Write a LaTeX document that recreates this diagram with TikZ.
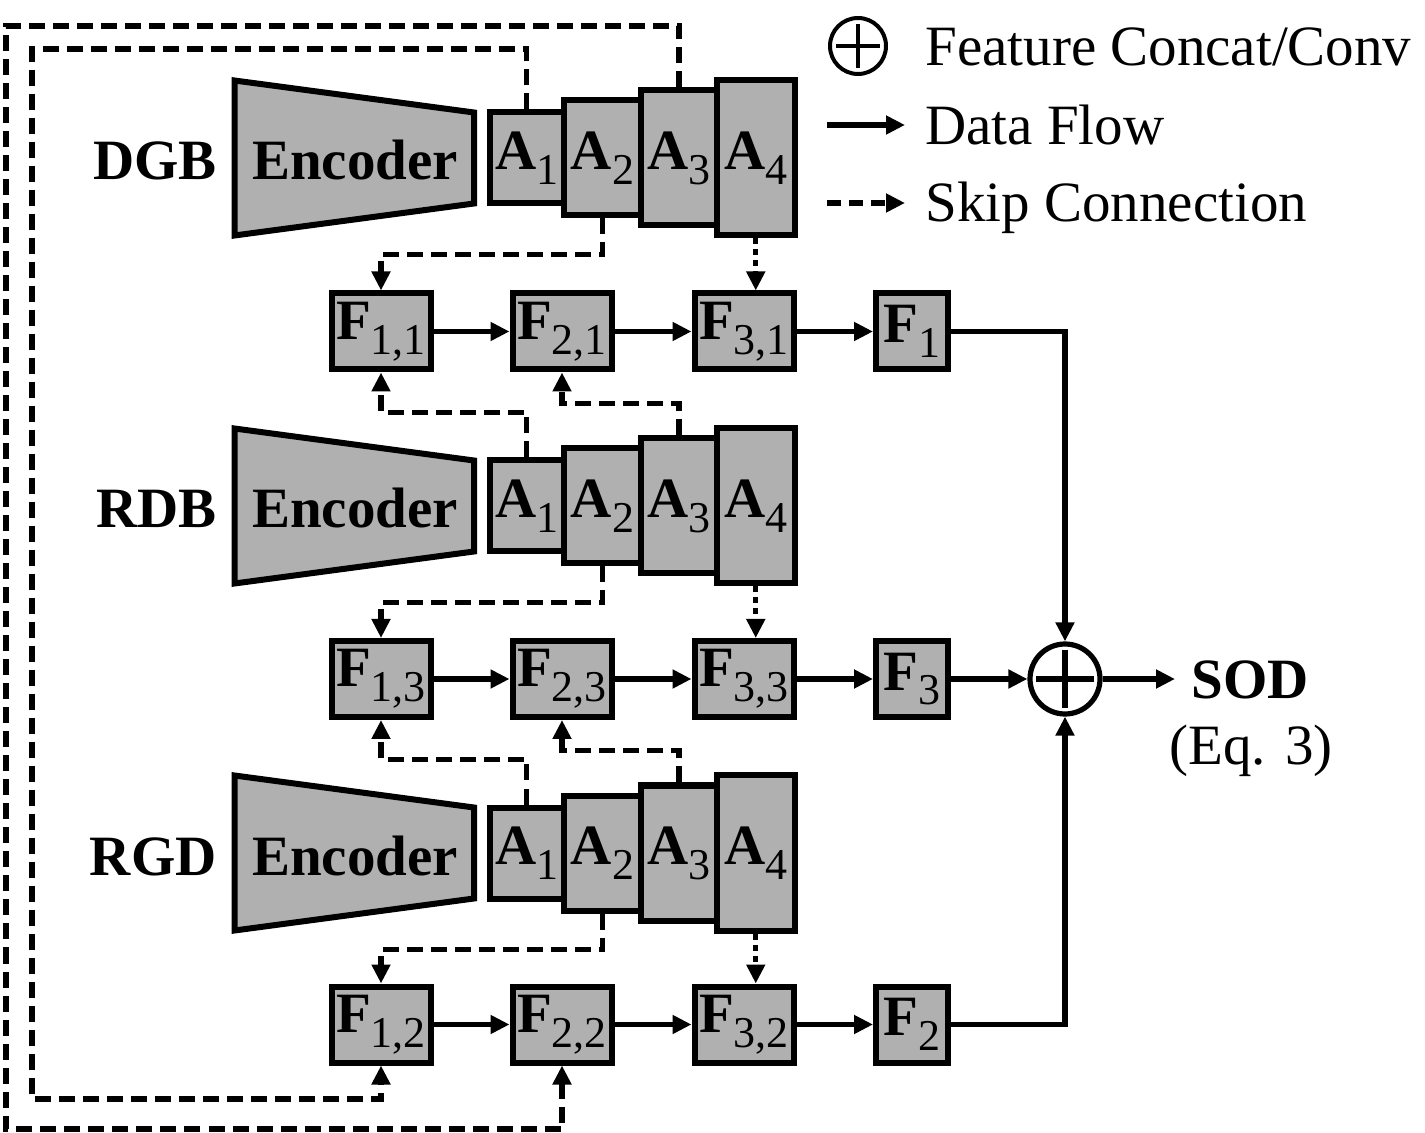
\documentclass[tikz,border=0pt]{standalone}
\usepackage{fontspec}
\setmainfont{Liberation Serif}
\usetikzlibrary{arrows.meta,calc}
\definecolor{boxgray}{RGB}{176,176,176}
\newcommand{\sbs}[1]{\raisebox{-0.26em}{\fontsize{22}{22}\selectfont #1}}
\begin{document}
\begin{tikzpicture}[x=0.5pt,y=-0.5pt,
  every node/.style={font=\fontsize{28.5}{34}\selectfont},
  blk/.style={draw, line width=3pt, fill=boxgray, inner sep=0pt, anchor=center},
  tip/.style={-{Triangle[length=9.5pt,width=9pt]}},
  data/.style={line width=2.6pt, tip},
  skip/.style={line width=2.6pt, dash pattern=on 8pt off 4pt, tip},
  dotskip/.style={line width=2.6pt, dash pattern=on 3pt off 2.5pt, tip},
  enc/.style={draw, line width=3pt, fill=boxgray, line join=miter},
  txt/.style={inner sep=0pt}
]
\useasboundingbox (0,0) rectangle (1425,1133);

% encoder rows
\foreach \p/\dy/\lab in {d/0/DGB, r/348/RDB, g/695/RGD}{
  \begin{scope}[shift={(0,\dy)}]
    \path[enc] (234.5,80.5) -- (474,112.5) -- (474,203.5) -- (234.5,235.5) -- cycle;
    \node[txt, anchor=base] (\p enc) at (355,180) {\bfseries Encoder};
    \node[txt, anchor=base east] (\p lab) at (217,180) {\bfseries \lab};
    \node[blk, minimum width=37.25pt, minimum height=45.5pt] (\p A1) at (526.75,158) {{\bfseries A}\sbs{1}};
    \node[blk, minimum width=38.5pt, minimum height=57.5pt] (\p A2) at (602.5,158) {{\bfseries A}\sbs{2}};
    \node[blk, minimum width=38pt, minimum height=67.5pt] (\p A3) at (679,158) {{\bfseries A}\sbs{3}};
    \node[blk, minimum width=38.75pt, minimum height=77.5pt] (\p A4) at (755.75,158) {{\bfseries A}\sbs{4}};
  \end{scope}
}

% feature rows
\foreach \j/\y in {1/331.5, 3/679, 2/1024.5}{
  \node[blk, minimum width=49.5pt, minimum height=38pt] (F1\j) at (381,\y) {{\bfseries F}\sbs{1,\j}};
  \node[blk, minimum width=49.5pt, minimum height=38pt] (F2\j) at (562,\y) {{\bfseries F}\sbs{2,\j}};
  \node[blk, minimum width=49.5pt, minimum height=38pt] (F3\j) at (744,\y) {{\bfseries F}\sbs{3,\j}};
  \node[blk, minimum width=36pt, minimum height=38pt] (Fo\j) at (912,\y) {{\bfseries F}\sbs{\j}};
  \draw[data] (F1\j) -- (F2\j);
  \draw[data] (F2\j) -- (F3\j);
  \draw[data] (F3\j) -- (Fo\j);
}

% fusion
\node[circle, draw, line width=2.6pt, minimum size=35pt, inner sep=0pt] (plus) at (1065,679) {};
\draw[line width=2.6pt] ($(plus.center)+(-29,0)$) -- ($(plus.center)+(29,0)$);
\draw[line width=2.6pt] ($(plus.center)+(0,-29)$) -- ($(plus.center)+(0,29)$);
\draw[data] (Fo1.east) -| (plus.north);
\draw[data] (Fo3.east) -- (plus.west);
\draw[data] (Fo2.east) -| (plus.south);
\node[txt, anchor=base] (sod) at (1250,699) {\bfseries SOD};
\node[txt, anchor=base] (eq) at (1251,765) {(Eq. 3)};
\coordinate (sodin) at ($(sod.west)+(-16,0)$);
\draw[data] (plus.east) -- (plus.east -| sodin);

% skip connections
\draw[skip] (dA2.south) -- ++(0,36) -| (F11.north);
\draw[dotskip] (dA4.south) -- (dA4.south |- F31.north);
\draw[skip] (rA1.north) -- ++(0,-45) -| (F11.south);
\draw[skip] (rA3.north) -- ++(0,-32) -| (F21.south);
\draw[skip] (rA2.south) -- ++(0,36) -| (F13.north);
\draw[dotskip] (rA4.south) -- (rA4.south |- F33.north);
\draw[skip] (gA1.north) -- ++(0,-45) -| (F13.south);
\draw[skip] (gA3.north) -- ++(0,-32) -| (F23.south);
\draw[skip] (gA2.south) -- ++(0,36) -| (F12.north);
\draw[dotskip] (gA4.south) -- (gA4.south |- F32.north);
\coordinate (iTL) at (32,49);
\coordinate (iBL) at (32,1099);
\coordinate (oTL) at (6,26);
\coordinate (oBL) at (6,1129);
\draw[skip] (dA1.north) |- (iTL) -- (iBL) -| (F12.south);
\draw[skip] (dA3.north) |- (oTL) -- (oBL) -| (F22.south);

% legend
\node[circle, draw, line width=2pt, minimum size=28pt, inner sep=0pt] (lplus) at (858,46) {};
\draw[line width=2pt] ($(lplus.center)+(-22,0)$) -- ($(lplus.center)+(22,0)$);
\draw[line width=2pt] ($(lplus.center)+(0,-22)$) -- ($(lplus.center)+(0,22)$);
\node[txt, anchor=base west] (lt1) at (925,66) {Feature Concat/Conv};
\coordinate (l2a) at (827,125);
\coordinate (l2b) at (905,125);
\draw[data] (l2a) -- (l2b);
\node[txt, anchor=base west] (lt2) at (925,145) {Data Flow};
\coordinate (l3a) at (827,203);
\coordinate (l3b) at (905,203);
\draw[line width=2.6pt, dash pattern=on 7pt off 4pt, tip] (l3a) -- (l3b);
\node[txt, anchor=base west] (lt3) at (925,222) {Skip Connection};
\end{tikzpicture}
\end{document}
